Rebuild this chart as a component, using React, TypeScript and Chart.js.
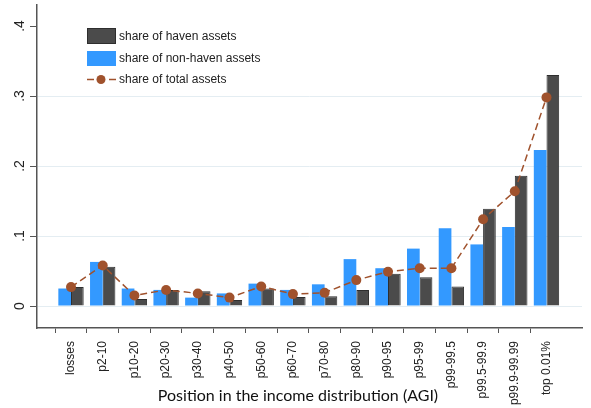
import React, { useEffect, useRef } from 'react';
import { Chart, registerables } from 'chart.js';

Chart.register(...registerables);

const categories = ['losses', 'p2-10', 'p10-20', 'p20-30', 'p30-40', 'p40-50', 'p50-60', 'p60-70', 'p70-80', 'p80-90', 'p90-95', 'p95-99', 'p99-99.5', 'p99.5-99.9', 'p99.9-99.99', 'top 0.01%'];
const nonHavenShare = [0.025, 0.063, 0.025, 0.023, 0.012, 0.018, 0.032, 0.023, 0.031, 0.067, 0.054, 0.082, 0.111, 0.088, 0.113, 0.223];
const havenShare = [0.027, 0.056, 0.010, 0.023, 0.021, 0.0086, 0.025, 0.013, 0.014, 0.023, 0.046, 0.041, 0.028, 0.139, 0.186, 0.330];
const totalShare = [0.027, 0.058, 0.015, 0.023, 0.018, 0.012, 0.028, 0.017, 0.019, 0.037, 0.049, 0.054, 0.054, 0.124, 0.164, 0.298];
const yTickValues = [0, 0.1, 0.2, 0.3, 0.4];
const yTickLabels = ['0', '.1', '.2', '.3', '.4'];
const legendLabels = ['share of haven assets', 'share of non-haven assets', 'share of total assets'];
const xTitle = 'Position in the income distribution (AGI)';

const BLUE = '#3399ff';
const DARK = '#4b4b4b';
const BROWN = '#a0522d';
const AXIS = '#555555';

const overlayPlugin = {
  id: 'overlay',
  afterDraw(chart: any) {
    const ctx = chart.ctx;
    const yScale = chart.scales.y;
    const area = chart.chartArea;
    ctx.save();
    // y tick labels, rotated
    ctx.font = '14px "Liberation Sans", Arial, sans-serif';
    ctx.fillStyle = '#222';
    ctx.textAlign = 'center';
    ctx.textBaseline = 'middle';
    yTickValues.forEach((v, i) => {
      const py = yScale.getPixelForValue(v);
      ctx.save();
      ctx.translate(area.left - 17, py);
      ctx.rotate(-Math.PI / 2);
      ctx.fillText(yTickLabels[i], 0, 0);
      ctx.restore();
    });
    // x axis title
    ctx.font = '16px Lato, "Open Sans", sans-serif';
    ctx.fillStyle = '#111';
    ctx.textAlign = 'center';
    ctx.textBaseline = 'middle';
    ctx.fillText(xTitle, 298, 396);
    // legend
    const lx = area.left + 50;
    const ty = area.top;
    ctx.font = '12px "Liberation Sans", Arial, sans-serif';
    ctx.textAlign = 'left';
    ctx.textBaseline = 'middle';
    // haven
    ctx.fillStyle = DARK;
    ctx.fillRect(lx, ty + 23, 29, 16);
    ctx.strokeStyle = '#2e2e2e';
    ctx.lineWidth = 1;
    ctx.strokeRect(lx + 0.5, ty + 23.5, 28, 15);
    ctx.fillStyle = '#222';
    ctx.fillText(legendLabels[0], lx + 32, ty + 31.5);
    // non-haven
    ctx.fillStyle = BLUE;
    ctx.fillRect(lx, ty + 46, 29, 15);
    ctx.fillStyle = '#222';
    ctx.fillText(legendLabels[1], lx + 32, ty + 53.5);
    // total
    const ly = ty + 74.5;
    ctx.strokeStyle = BROWN;
    ctx.lineWidth = 1.5;
    ctx.setLineDash([7, 4]);
    ctx.beginPath();
    ctx.moveTo(lx, ly);
    ctx.lineTo(lx + 29, ly);
    ctx.stroke();
    ctx.setLineDash([]);
    ctx.fillStyle = BROWN;
    ctx.beginPath();
    ctx.arc(lx + 14, ly, 4.5, 0, Math.PI * 2);
    ctx.fill();
    ctx.fillStyle = '#222';
    ctx.fillText(legendLabels[2], lx + 32, ly);
    ctx.restore();
  },
};

const isCategoryTick = (c: any) =>
  c.tick && Number.isInteger(c.tick.value) && c.tick.value >= 0 && c.tick.value < categories.length;

export default function App() {
  const canvasRef = useRef<HTMLCanvasElement | null>(null);

  useEffect(() => {
    document.body.style.margin = '0';
    const canvas = canvasRef.current;
    if (!canvas) return;
    const toXY = (arr: number[]) => arr.map((v, i) => ({ x: i, y: v }));
    const chart = new Chart(canvas, {
      type: 'bar',
      data: {
        datasets: [
          {
            type: 'line',
            label: legendLabels[2],
            data: toXY(totalShare),
            borderColor: BROWN,
            backgroundColor: BROWN,
            borderWidth: 1.5,
            borderDash: [7, 4],
            pointRadius: 5,
            pointBorderWidth: 0,
            pointBackgroundColor: BROWN,
            tension: 0,
            order: 0,
          } as any,
          {
            type: 'bar',
            label: legendLabels[1],
            data: toXY(nonHavenShare),
            backgroundColor: BLUE,
            borderWidth: 0,
            categoryPercentage: 0.8,
            barPercentage: 1.0,
            order: 1,
          },
          {
            type: 'bar',
            label: legendLabels[0],
            data: toXY(havenShare),
            backgroundColor: DARK,
            borderColor: '#2e2e2e',
            borderWidth: 1,
            categoryPercentage: 0.8,
            barPercentage: 1.0,
            order: 1,
          },
        ],
      },
      options: {
        responsive: false,
        animation: false,
        layout: { padding: { top: 5, right: 9, left: 0, bottom: 0 } },
        scales: {
          x: {
            type: 'linear',
            min: -1.073,
            max: 16.12,
            offset: false,
            afterBuildTicks: (axis: any) => {
              axis.ticks = categories.map((_, i) => ({ value: i }));
            },
            afterFit: (axis: any) => {
              axis.height = 80;
            },
            ticks: {
              autoSkip: false,
              minRotation: 90,
              maxRotation: 90,
              padding: 8,
              color: '#222',
              font: { family: '"Liberation Sans", Arial, sans-serif', size: 12 },
              callback: (v: any) => categories[v] ?? '',
            },
            grid: {
              drawOnChartArea: false,
              drawTicks: true,
              tickLength: 5,
              tickColor: (c: any) => (isCategoryTick(c) ? AXIS : 'rgba(0,0,0,0)'),
              tickWidth: 1,
            },
            border: { display: true, color: AXIS, width: 1.5 },
          },
          y: {
            type: 'linear',
            min: -0.0314,
            max: 0.43,
            afterBuildTicks: (axis: any) => {
              axis.ticks = yTickValues.map((v) => ({ value: v }));
            },
            afterFit: (axis: any) => {
              axis.width = 37;
            },
            ticks: { display: false },
            grid: {
              color: (c: any) => (c.tick && c.tick.value <= 0.3 ? '#e4edf2' : 'rgba(0,0,0,0)'),
              lineWidth: 1,
              drawTicks: true,
              tickLength: 7,
              tickColor: AXIS,
              tickWidth: 1,
            },
            border: { display: true, color: AXIS, width: 1.5 },
          },
        },
        plugins: {
          legend: { display: false },
          tooltip: { enabled: false },
          title: { display: false },
        },
      },
      plugins: [overlayPlugin],
    } as any);
    return () => chart.destroy();
  }, []);

  return (
    <div style={{ width: 591, height: 408 }}>
      <canvas ref={canvasRef} width={591} height={408} style={{ display: 'block' }} />
    </div>
  );
}
